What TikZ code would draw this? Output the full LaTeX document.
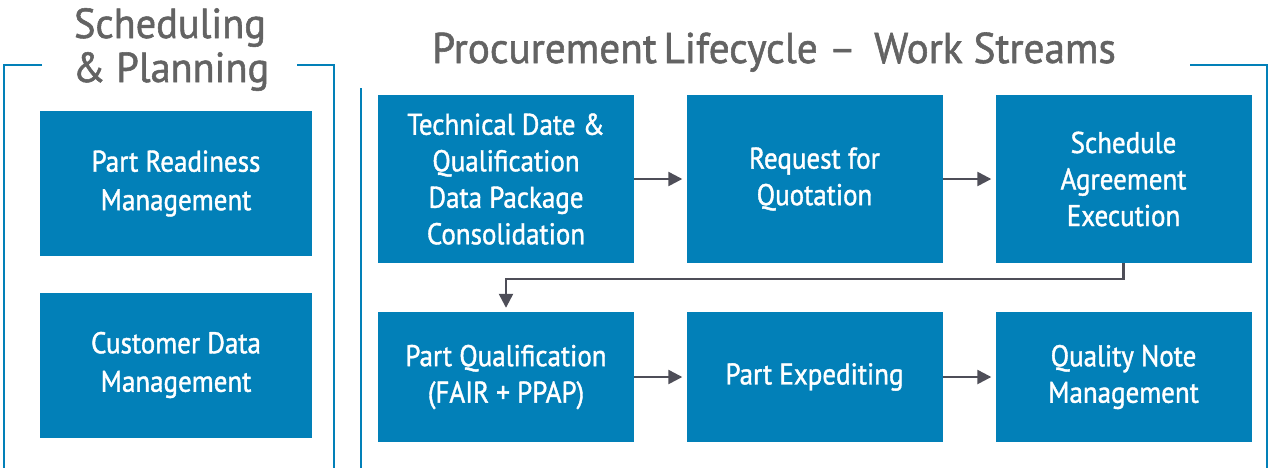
\documentclass[tikz,border=0pt]{standalone}
\usepackage{fontspec}
\setmainfont{PT Sans}[FakeStretch=0.9]
\newfontfamily\boxfont{PT Sans}[FakeStretch=0.9,FakeBold=1.3]
\newfontfamily\headfont{PT Sans}[FakeStretch=0.96,FakeBold=1.3]
\usetikzlibrary{arrows.meta}
\definecolor{boxblue}{RGB}{2,128,184}
\definecolor{titlegray}{RGB}{99,99,99}
\definecolor{arrowgray}{RGB}{78,78,88}
\begin{document}
\begin{tikzpicture}[x=1pt,y=-1pt,
  stagebox/.style={fill=boxblue, draw=none, text=white, align=center,
    inner sep=0pt, font=\boxfont\fontsize{30}{36.5}\selectfont},
  tallbox/.style={stagebox, minimum width=256pt, minimum height=168pt},
  lowbox/.style={stagebox, minimum width=256pt, minimum height=130pt},
  sidebox/.style={stagebox, minimum width=272pt, minimum height=145pt,
    font=\boxfont\fontsize{30}{38.5}\selectfont},
  heading/.style={text=titlegray, anchor=base, inner sep=0pt,
    font=\headfont\fontsize{42}{44}\selectfont},
  frame/.style={draw=boxblue, line width=2.6pt},
  flow/.style={draw=arrowgray, line width=2.4pt, shorten >=4pt,
    -{Triangle[length=14pt,width=14pt]}}]
\useasboundingbox (0,0) rectangle (1271,467);

% section frames
\draw[frame] (42,65) -- (4,65) -- (4,468);
\draw[frame] (297,65) -- (334,65) -- (334,468);
\draw[frame] (361,88) -- (361,468);
\draw[frame] (1190,65) -- (1267,65) -- (1267,468);

% headings
\node[heading] (sp1) at (170,38) {Scheduling};
\node[heading] (sp2) at (171,82) {\& Planning};
\node[heading, font=\headfont\fontsize{43}{44}\selectfont] (pl) at (774,63)
  {Procurement\hspace{-0.1em} Lifecycle – \,Work Streams};

% scheduling & planning column
\node[sidebox] (pr) at (176,183.5) {Part Readiness\\Management};
\node[sidebox] (cd) at (176,365) {Customer Data\\Management};

% procurement lifecycle work streams
\node[tallbox] (td)  at (506,179)   {Technical Date \&\\Qualification\\Data Package\\Consolidation};
\node[tallbox] (rfq) at (814.5,179) {Request for\\Quotation};
\node[tallbox] (sae) at (1123.5,179) {Schedule\\Agreement\\Execution};
\node[lowbox]  (pq)  at (506,377)   {Part Qualification\\(FAIR + PPAP)};
\node[lowbox]  (pe)  at (814.5,377) {Part Expediting};
\node[lowbox]  (qn)  at (1123.5,377) {Quality Note\\Management};

% flow between work streams
\draw[flow] (td.east) -- (rfq.west);
\draw[flow] (rfq.east) -- (sae.west);
\draw[flow] (sae.south) -- ++(0,16) -| (pq.north);
\draw[flow] (pq.east) -- (pe.west);
\draw[flow] (pe.east) -- (qn.west);
\end{tikzpicture}
\end{document}
